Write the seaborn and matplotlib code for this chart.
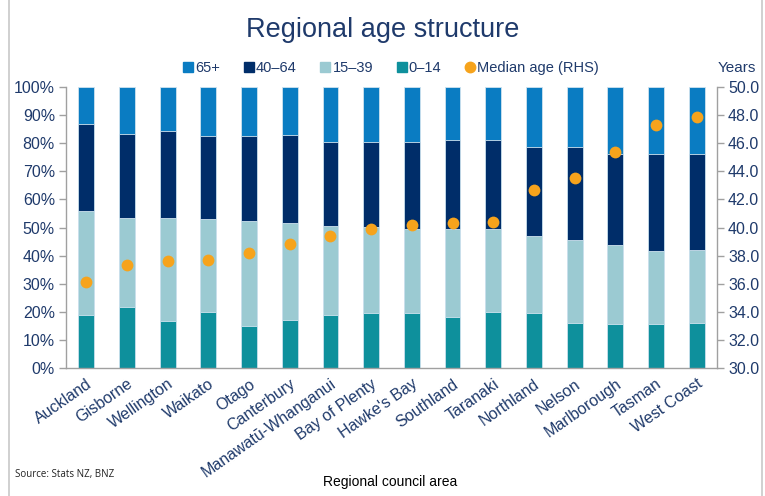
import numpy as np
import pandas as pd
import matplotlib
matplotlib.use("Agg")
import matplotlib.pyplot as plt
from matplotlib.lines import Line2D
import seaborn as sns

regions = ["Auckland", "Gisborne", "Wellington", "Waikato", "Otago", "Canterbury",
           "Manawatū-Whanganui", "Bay of Plenty", "Hawke's Bay", "Southland", "Taranaki",
           "Northland", "Nelson", "Marlborough", "Tasman", "West Coast"]
age_0_14 = [18.9, 21.7, 16.7, 19.9, 15.1, 17.1, 19.0, 19.6, 19.5, 18.3, 19.8, 19.5, 16.0, 15.8, 15.7, 16.0]
age_15_39 = [37.0, 31.7, 36.6, 33.1, 37.3, 34.4, 31.7, 30.7, 30.0, 31.2, 29.6, 27.5, 29.7, 27.9, 26.1, 26.0]
age_40_64 = [30.9, 29.8, 31.2, 29.6, 30.0, 31.3, 29.9, 30.1, 31.1, 31.8, 31.6, 31.5, 33.1, 32.5, 34.4, 34.0]
age_65p = [13.2, 16.8, 15.5, 17.4, 17.6, 17.2, 19.4, 19.6, 19.4, 18.7, 19.0, 21.5, 21.2, 23.8, 23.8, 24.0]
median_age = [36.1, 37.3, 37.6, 37.7, 38.2, 38.8, 39.4, 39.9, 40.2, 40.3, 40.4, 42.7, 43.5, 45.4, 47.3, 47.9]

series_names = ["65+", "40–64", "15–39", "0–14"]
colors = {"65+": "#0a7cc2", "40–64": "#002d69", "15–39": "#9bcad2", "0–14": "#0e909c"}
dot_color = "#f6a31c"
text_color = "#1f3a6b"

sns.set_theme(style="white")
plt.rcParams["font.family"] = ["Liberation Sans", "DejaVu Sans"]

fig = plt.figure(figsize=(7.65, 4.96), dpi=100)
ax = fig.add_axes([66 / 765, 1 - 368 / 496, (717 - 66) / 765, (368 - 87) / 496])

df = pd.DataFrame({"region": regions, "0–14": age_0_14, "15–39": age_15_39,
                   "40–64": age_40_64, "65+": age_65p})
cum = df[["0–14", "15–39", "40–64", "65+"]].cumsum(axis=1)
# draw from top segment down (overlay cumulative totals)
for name in ["65+", "40–64", "15–39", "0–14"]:
    sns.barplot(x=df["region"], y=cum[name] if name != "65+" else cum[name] * 0 + 100,
                color=colors[name], width=0.39, ax=ax, saturation=1,
                edgecolor="#cfe3ef", linewidth=0.6)

ax.set_ylim(0, 100)
ax.set_xlim(-0.5, len(regions) - 0.5)
ax.set_yticks(np.arange(0, 101, 10))
ax.set_yticklabels([f"{v}%" for v in range(0, 101, 10)])
ax.set_xlabel("")
ax.set_ylabel("")
ax.set_xticks(np.arange(len(regions)))
ax.set_xticklabels(regions, rotation=35, ha="right", rotation_mode="anchor")
ax.set_xticks(np.arange(len(regions) + 1) - 0.5, minor=True)
ax.tick_params(axis="x", which="major", length=0, pad=6, labelsize=11.5, labelcolor=text_color)
ax.tick_params(axis="x", which="minor", length=4, width=1, color="#a0a0a0", direction="out")
ax.tick_params(axis="y", length=5, width=1, color="#a0a0a0", direction="out",
               labelsize=11.5, labelcolor=text_color, pad=3)
ax.xaxis.set_tick_params(bottom=True)
for s in ["top", "right"]:
    ax.spines[s].set_visible(False)
for s in ["left", "bottom"]:
    ax.spines[s].set_color("#a0a0a0")
    ax.spines[s].set_linewidth(1)

ax2 = ax.twinx()
sns.pointplot(x=df["region"], y=median_age, color=dot_color, linestyle="none",
              markersize=8.5, ax=ax2, errorbar=None, markeredgewidth=0)
ax2.set_xlim(-0.5, len(regions) - 0.5)
ax2.set_ylim(30, 50)
ax2.set_yticks(np.arange(30, 50.1, 2))
ax2.set_yticklabels([f"{v:.1f}" for v in np.arange(30, 50.1, 2)])
ax2.set_ylabel("")
ax2.set_xlabel("")
ax2.tick_params(axis="y", length=5, width=1, color="#a0a0a0", direction="out",
                labelsize=11.5, labelcolor=text_color, pad=3)
ax2.tick_params(axis="x", bottom=False, labelbottom=False)
for s in ["top", "left", "bottom"]:
    ax2.spines[s].set_visible(False)
ax2.spines["right"].set_color("#a0a0a0")
ax2.spines["right"].set_linewidth(1)

# Title and texts
fig.text(0.5, 1 - 30 / 496, "Regional age structure", ha="center", va="center",
         fontsize=19.5, color=text_color)
fig.text(737 / 765, 1 - 68 / 496, "Years", ha="center", va="center", fontsize=11, color=text_color)
fig.text(390 / 765, 1 - 482 / 496, "Regional council area", ha="center", va="center",
         fontsize=10, color="black")
fig.text(15 / 765, 1 - 474 / 496, "Source: Stats NZ, BNZ", ha="left", va="center",
         fontsize=7, color="#222222", family=["Open Sans", "DejaVu Sans"])

handles = [Line2D([], [], marker="s", linestyle="none", color=colors[n], markersize=7)
           for n in series_names]
handles.append(Line2D([], [], marker="o", linestyle="none", color=dot_color, markersize=7.5))
labels = series_names + ["Median age (RHS)"]
leg = fig.legend(handles, labels, loc="center", bbox_to_anchor=(391 / 765, 1 - 68 / 496),
                 ncol=5, frameon=False, fontsize=10.5, handlelength=0.7, handletextpad=0.15,
                 columnspacing=1.6, borderaxespad=0)
for t in leg.get_texts():
    t.set_color(text_color)

# outer frame lines
for xx in [8.5 / 765, 762 / 765]:
    fig.add_artist(Line2D([xx, xx], [0, 1], color="#c8c8c8", linewidth=1.2,
                          transform=fig.transFigure))

fig.savefig("out.png", dpi=100)
